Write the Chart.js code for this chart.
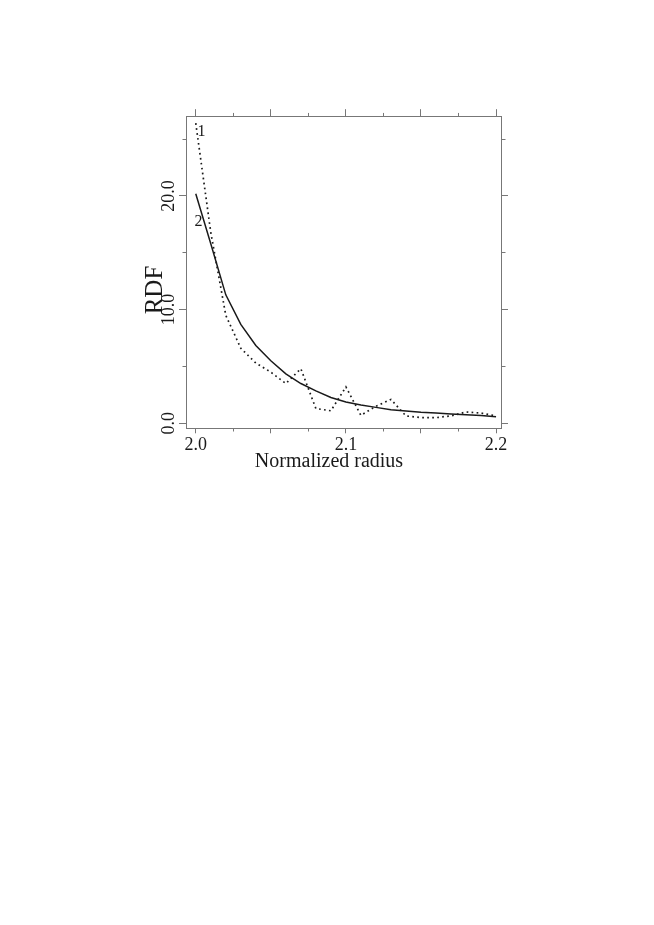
<!DOCTYPE html>
<html>
<head>
<meta charset="utf-8">
<script src="https://cdn.jsdelivr.net/npm/chart.js@4.4.1/dist/chart.umd.min.js"></script>
<style>
  html, body { margin: 0; padding: 0; background: #fff; }
  canvas { display: block; }
</style>
</head>
<body>
<canvas id="rdf-chart" width="654" height="925"></canvas>
<script>
// Normalized radius samples
const radius = [2.00, 2.01, 2.02, 2.03, 2.04, 2.05, 2.06, 2.07, 2.08, 2.09, 2.10,
                2.11, 2.12, 2.13, 2.14, 2.15, 2.16, 2.17, 2.18, 2.19, 2.20];
// Curve 1 (dotted)
const rdf1 = [26.4, 16.8, 9.5, 6.6, 5.3, 4.5, 3.5, 4.8, 1.3, 1.1, 3.2,
              0.7, 1.5, 2.1, 0.65, 0.5, 0.5, 0.65, 1.0, 0.9, 0.65];
// Curve 2 (solid)
const rdf2 = [20.2, 15.8, 11.3, 8.7, 6.85, 5.5, 4.35, 3.5, 2.85, 2.27, 1.87,
              1.6, 1.4, 1.2, 1.08, 0.97, 0.9, 0.82, 0.76, 0.69, 0.58];

// Axis ticks
const xTickValues = [2.0, 2.025, 2.05, 2.075, 2.1, 2.125, 2.15, 2.175, 2.2];
const xMajorTicks = [2.0, 2.05, 2.1, 2.15, 2.2];
const xLabelValues = [2.0, 2.1, 2.2];
const xLabelText = ['2.0', '2.1', '2.2'];
const yTickValues = [0, 5, 10, 15, 20, 25];
const yMajorTicks = [0, 10, 20];
const yLabelValues = [0, 10, 20];
const yLabelText = ['0.0', '10.0', '20.0'];

// Curve markers "1" and "2" (data coordinates)
const curveLabels = ['1', '2'];
const curveLabelX = [2.0039, 2.0019];
const curveLabelY = [25.6, 17.75];

const X_MIN = 1.9935, X_MAX = 2.2033;
const Y_MIN = -0.44, Y_MAX = 26.97;

const FRAME = '#777';
const INK = '#1a1a1a';
const SERIF = '"Liberation Serif", "Times New Roman", serif';

const near = (a, b) => Math.abs(a - b) < 1e-6;
const isMajor = (list, v) => list.some(m => near(m, v));

// minor ticks are half length; dash pattern depends on which end the tick starts from
function tickDash(list, tl, fromOuter) {
  return ctx => {
    if (!ctx.tick || isMajor(list, ctx.tick.value)) return [];
    const m = tl / 2;
    return fromOuter ? [0, tl - m, m, 100] : [m, 100];
  };
}

function axis(position, list, values, tl, fromOuter, size) {
  const horizontal = position === 'top' || position === 'bottom';
  return {
    type: 'linear',
    position: position,
    min: horizontal ? X_MIN : Y_MIN,
    max: horizontal ? X_MAX : Y_MAX,
    afterBuildTicks: s => { s.ticks = values.map(v => ({ value: v })); },
    afterFit: s => { if (horizontal) s.height = size; else s.width = size; },
    border: { display: true, color: FRAME, width: 1 },
    grid: {
      display: true,
      drawOnChartArea: false,
      drawTicks: true,
      tickLength: tl,
      tickColor: FRAME,
      tickWidth: 1,
      tickBorderDash: tickDash(list, tl, fromOuter)
    },
    ticks: { display: false }
  };
}

const xAxis = axis('bottom', xMajorTicks, xTickValues, 5, false, 925 - 428.3);
xAxis.ticks = {
  display: true,
  autoSkip: false,
  maxRotation: 0,
  minRotation: 0,
  padding: 1,
  color: INK,
  font: { family: SERIF, size: 18 },
  callback: v => {
    const i = xLabelValues.findIndex(l => near(l, v));
    return i >= 0 ? xLabelText[i] : '';
  }
};

const textPlugin = {
  id: 'rdfText',
  afterDraw(chart) {
    const { ctx, chartArea, scales: { x, y } } = chart;
    ctx.save();
    ctx.fillStyle = INK;
    ctx.textAlign = 'center';
    ctx.textBaseline = 'alphabetic';

    // rotated y tick labels
    ctx.font = '18px ' + SERIF;
    yLabelValues.forEach((v, i) => {
      ctx.save();
      ctx.translate(chartArea.left - 12, y.getPixelForValue(v));
      ctx.rotate(-Math.PI / 2);
      ctx.fillText(yLabelText[i], 0, 0);
      ctx.restore();
    });

    // y axis title
    ctx.font = '25px ' + SERIF;
    ctx.save();
    ctx.translate(chartArea.left - 24, 290);
    ctx.rotate(-Math.PI / 2);
    ctx.fillText('RDF', 0, 0);
    ctx.restore();

    // x axis title
    ctx.font = '20px ' + SERIF;
    ctx.fillText('Normalized radius', 329, 467);

    // curve markers
    ctx.font = '16px ' + SERIF;
    ctx.textBaseline = 'middle';
    curveLabels.forEach((t, i) => {
      ctx.fillText(t, x.getPixelForValue(curveLabelX[i]), y.getPixelForValue(curveLabelY[i]));
    });
    ctx.restore();
  }
};

new Chart(document.getElementById('rdf-chart'), {
  type: 'line',
  data: {
    datasets: [
      {
        label: '1',
        data: radius.map((r, i) => ({ x: r, y: rdf1[i] })),
        borderColor: INK,
        borderWidth: 1.7,
        borderDash: [1.7, 3.3],
        pointRadius: 0,
        tension: 0,
        fill: false
      },
      {
        label: '2',
        data: radius.map((r, i) => ({ x: r, y: rdf2[i] })),
        borderColor: INK,
        borderWidth: 1.5,
        pointRadius: 0,
        tension: 0,
        fill: false
      }
    ]
  },
  options: {
    responsive: false,
    animation: false,
    layout: { padding: 0 },
    plugins: {
      legend: { display: false },
      tooltip: { enabled: false }
    },
    scales: {
      x: xAxis,
      x2: axis('top', xMajorTicks, xTickValues, 7.5, true, 116.7),
      y: axis('left', yMajorTicks, yTickValues, 7, true, 186),
      y2: axis('right', yMajorTicks, yTickValues, 7, false, 153)
    }
  },
  plugins: [textPlugin]
});
</script>
</body>
</html>
